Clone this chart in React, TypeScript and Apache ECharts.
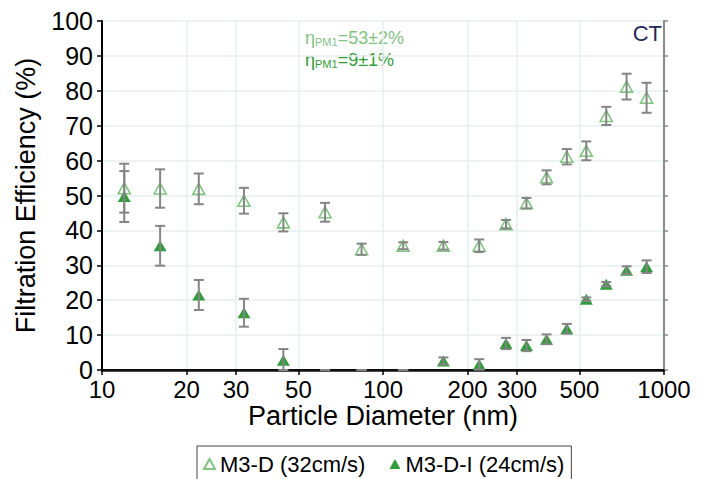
import React, { useEffect, useRef } from "react";
import * as echarts from "echarts";

// Particle diameters (nm)
const diameters = [12.0, 16.1, 22.1, 32.0, 44.2, 62.2, 83.9, 118, 164, 220, 274, 324, 382, 451, 529, 623, 736, 867];
// M3-D (32cm/s) efficiency (%) and error (±)
const m3d = [52.1, 52.0, 51.9, 48.5, 42.3, 45.2, 34.6, 35.6, 35.6, 35.6, 41.8, 47.8, 55.2, 61.1, 62.8, 72.8, 81.2, 78.0];
const m3dErr = [7.0, 5.5, 4.4, 3.7, 2.6, 2.7, 1.6, 1.0, 1.1, 1.8, 1.2, 1.5, 2.0, 2.2, 2.7, 2.6, 3.7, 4.3];
// M3-D-I (24cm/s) efficiency (%) and error (±); below-zero points are hidden under the axis
const m3di = [49.7, 35.6, 21.5, 16.4, 2.8, -1, -1, -1, 2.6, 1.6, 7.6, 7.0, 8.8, 11.8, 20.3, 24.6, 28.6, 29.6];
const m3diErr = [7.3, 5.7, 4.3, 4.0, 3.2, 1, 1, 1, 1.0, 1.5, 1.6, 1.6, 1.4, 1.4, 0.5, 0.6, 1.1, 1.8];
// X tick labels (nm)
const xTicks = [10, 20, 30, 50, 100, 200, 300, 500, 1000];
const xName = "Particle Diameter (nm)";
const yName = "Filtration Efficiency (%)";

const FONT = '"Liberation Sans", Arial, Helvetica, sans-serif';
const OPEN_GREEN = "#7fc67f";
const FILLED_GREEN = "#2f9e3a";
const ERR_GRAY = "#858585";

export default function App() {
  const ref = useRef<HTMLDivElement>(null);
  useEffect(() => {
    if (!ref.current) return;
    const chart = echarts.init(ref.current, null, { renderer: "svg" });
    const lg = (arr: number[]) => arr.map((d) => Math.log10(d));
    const lx = lg(diameters);
    const pts = (vals: number[]) => vals.map((v, i) => [lx[i], v]);
    const errs = (vals: number[], e: number[]) =>
      vals.map((v, i) => [lx[i], Math.max(0, v - e[i]), Math.max(0, v + e[i])]);

    const renderErr = (params: any, api: any) => {
      const x = api.value(0);
      const lo = api.coord([x, api.value(1)]);
      const hi = api.coord([x, api.value(2)]);
      const hw = 5;
      const style = { stroke: ERR_GRAY, lineWidth: 2 };
      return {
        type: "group",
        children: [
          { type: "line", shape: { x1: lo[0], y1: lo[1], x2: hi[0], y2: hi[1] }, style },
          { type: "line", shape: { x1: lo[0] - hw, y1: lo[1], x2: lo[0] + hw, y2: lo[1] }, style },
          { type: "line", shape: { x1: hi[0] - hw, y1: hi[1], x2: hi[0] + hw, y2: hi[1] }, style },
        ],
      };
    };

    // x tick labels and axis title drawn through the x scale, below the axis line
    const renderXTexts = (params: any, api: any) => {
      const p0 = api.coord([1, 0]);
      const p1 = api.coord([3, 0]);
      const children: any[] = xTicks.map((t) => {
        const p = api.coord([Math.log10(t), 0]);
        return {
          type: "text",
          x: p[0],
          y: p[1] + 7,
          z2: 10,
          style: {
            text: String(t),
            fontSize: 24,
            fontFamily: FONT,
            fill: "#000000",
            align: "center",
            verticalAlign: "top",
          },
        };
      });
      children.push({
        type: "text",
        x: (p0[0] + p1[0]) / 2,
        y: p0[1] + 46,
        z2: 5,
        style: {
          text: xName,
          fontSize: 27,
          fontFamily: FONT,
          fill: "#000000",
          align: "center",
          verticalAlign: "middle",
        },
      });
      return { type: "group", children };
    };

    chart.setOption({
      animation: false,
      backgroundColor: "#ffffff",
      textStyle: { fontFamily: FONT },
      grid: { left: 102, right: 46, top: 21, bottom: 109, containLabel: false, outerBoundsMode: "none" },
      xAxis: [
        {
          type: "value",
          min: 1,
          max: 3,
          position: "bottom",
          axisLine: { show: true, lineStyle: { color: "#000", width: 2 } },
          axisTick: { show: true, customValues: lg(xTicks), length: 5, lineStyle: { color: "#000", width: 1.5 } },
          axisLabel: { show: false },
          splitLine: { show: true, lineStyle: { color: "#e6eff1", width: 1.5 } },
        },
        {
          type: "value",
          min: 1,
          max: 3,
          position: "top",
          axisLine: { show: true, lineStyle: { color: "#111", width: 2.5 } },
          axisTick: { show: false },
          axisLabel: { show: false },
          splitLine: { show: false },
        },
      ],
      yAxis: [
        {
          type: "value",
          min: 0,
          max: 100,
          interval: 10,
          name: yName,
          nameLocation: "middle",
          nameGap: 63,
          nameMoveOverlap: false,
          nameTextStyle: { fontSize: 27, color: "#000", fontFamily: FONT },
          axisLine: { show: true, lineStyle: { color: "#000", width: 2 } },
          axisTick: { show: true, length: 5, lineStyle: { color: "#000", width: 1.5 } },
          axisLabel: { margin: 9, fontSize: 25, color: "#000", fontFamily: FONT },
          splitLine: { show: true, lineStyle: { color: "#e6eff1", width: 1.5 } },
        },
        {
          type: "value",
          min: 0,
          max: 100,
          interval: 10,
          position: "right",
          axisLine: { show: true, lineStyle: { color: "#8a8a8a", width: 2 } },
          axisTick: { show: true, length: 4, lineStyle: { color: "#8a8a8a", width: 1.5 } },
          axisLabel: { show: false },
          splitLine: { show: false },
        },
      ],
      legend: {
        left: 197,
        top: 446,
        orient: "horizontal",
        borderColor: "#444",
        borderWidth: 1,
        padding: [7, 7, 20, 6],
        itemGap: 24,
        itemWidth: 11,
        itemHeight: 10,
        textStyle: { fontSize: 22, color: "#000", fontFamily: FONT },
        data: ["M3-D (32cm/s)", "M3-D-I (24cm/s)"],
      },
      graphic: [
        {
          type: "text",
          left: 305,
          top: 29,
          style: {
            text: "{a|η}{b|PM1}{a|=53±2%}",
            rich: {
              a: { fontSize: 18, fill: "#82c482", fontFamily: FONT, color: "#82c482" },
              b: { fontSize: 11, fill: "#82c482", fontFamily: FONT, color: "#82c482", verticalAlign: "bottom" },
            },
          },
        },
        {
          type: "text",
          left: 305,
          top: 51,
          style: {
            text: "{a|η}{b|PM1}{a|=9±1%}",
            rich: {
              a: { fontSize: 18, fill: "#2e9e36", fontFamily: FONT, color: "#2e9e36" },
              b: { fontSize: 11, fill: "#2e9e36", fontFamily: FONT, color: "#2e9e36", verticalAlign: "bottom" },
            },
          },
        },
        {
          type: "text",
          right: 48,
          top: 22,
          style: { text: "CT", fontSize: 22, fill: "#1f2b5c", fontFamily: FONT },
        },
      ],
      series: [
        {
          name: "M3-D (32cm/s)",
          type: "scatter",
          symbol: "triangle",
          symbolSize: [12, 11],
          z: 2,
          itemStyle: { color: "#ffffff", borderColor: OPEN_GREEN, borderWidth: 1.6, opacity: 1 },
          data: pts(m3d),
        },
        {
          name: "M3-D-I (24cm/s)",
          type: "scatter",
          symbol: "triangle",
          symbolSize: [13, 11],
          z: 2,
          itemStyle: { color: FILLED_GREEN, opacity: 1 },
          data: pts(m3di),
        },
        {
          type: "custom",
          z: 3,
          renderItem: renderErr,
          encode: { x: 0, y: [1, 2] },
          data: errs(m3d, m3dErr),
          silent: true,
        },
        {
          type: "custom",
          z: 3,
          renderItem: renderErr,
          encode: { x: 0, y: [1, 2] },
          data: errs(m3di, m3diErr),
          silent: true,
        },
        {
          type: "custom",
          z: 10,
          clip: false,
          silent: true,
          renderItem: renderXTexts,
          encode: { x: 0, y: 1 },
          data: [[1, 0]],
        },
      ],
    });
    return () => chart.dispose();
  }, []);
  return (
    <div
      ref={ref}
      style={{ position: "fixed", left: 0, top: 0, width: 710, height: 479, background: "#fff" }}
    />
  );
}
